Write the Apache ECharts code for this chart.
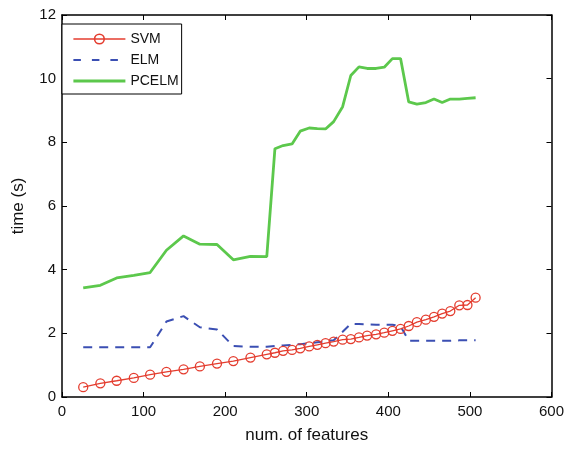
<!DOCTYPE html>
<html>
<head>
<meta charset="utf-8">
<script src="https://cdn.jsdelivr.net/npm/echarts@6/dist/echarts.min.js"></script>
<style>
  html, body { margin: 0; padding: 0; background: #fff; }
  #chart { width: 567px; height: 449px; }
</style>
</head>
<body>
<div id="chart"></div>
<script>
// Number of features used in each run
const features = [26, 47, 67, 88, 108, 128, 149, 169, 190, 210, 231, 251, 261, 271, 282, 292, 303, 313, 323, 333, 344, 354, 364, 374, 385, 395, 405, 415, 425, 435, 446, 456, 466, 476, 487, 497, 507];

// Training time in seconds for each method
const svmTime = [0.31, 0.43, 0.51, 0.60, 0.70, 0.79, 0.87, 0.96, 1.05, 1.13, 1.24, 1.34, 1.39, 1.45, 1.48, 1.53, 1.59, 1.64, 1.69, 1.74, 1.80, 1.82, 1.87, 1.93, 1.97, 2.02, 2.08, 2.14, 2.23, 2.35, 2.43, 2.52, 2.62, 2.70, 2.88, 2.89, 3.12];
const elmTime = [1.56, 1.56, 1.56, 1.56, 1.56, 2.37, 2.54, 2.19, 2.12, 1.60, 1.58, 1.58, 1.60, 1.62, 1.64, 1.66, 1.69, 1.72, 1.75, 1.78, 2.05, 2.30, 2.29, 2.28, 2.27, 2.27, 2.27, 2.22, 1.77, 1.77, 1.77, 1.77, 1.77, 1.77, 1.78, 1.78, 1.78];
const pcelmTime = [3.43, 3.51, 3.74, 3.82, 3.91, 4.61, 5.06, 4.80, 4.79, 4.31, 4.42, 4.41, 7.80, 7.90, 7.95, 8.35, 8.45, 8.43, 8.42, 8.65, 9.12, 10.10, 10.37, 10.32, 10.32, 10.36, 10.63, 10.63, 9.27, 9.20, 9.25, 9.36, 9.25, 9.36, 9.36, 9.38, 9.40];

// Axis ranges and tick spacing
const xRange = [0, 600];
const xStep = 100;
const yRange = [0, 12];
const yStep = 2;

const colors = { SVM: '#e43d2f', ELM: '#3b4fb3', PCELM: '#5cc84c' };
const FONT = '"Liberation Sans", Arial, Helvetica, sans-serif';

const pairs = (ys) => features.map((x, i) => [x, ys[i]]);

const frameAxis = (extra) => Object.assign({
  type: 'value',
  axisLine: { show: true, onZero: false, lineStyle: { color: '#000', width: 1.5 } },
  axisTick: { show: true, inside: true, length: 5, lineStyle: { color: '#000', width: 1 } },
  splitLine: { show: false },
  axisLabel: { show: false }
}, extra);

const labelStyle = { show: true, color: '#111', fontSize: 15, fontFamily: FONT };

const chart = echarts.init(document.getElementById('chart'), null, { renderer: 'canvas' });
chart.setOption({
  animation: false,
  backgroundColor: '#fff',
  grid: { left: 62, right: 15, top: 15, bottom: 48, containLabel: false },
  legend: {
    // plain-line entries hide the default marker dot
    data: [
      { name: 'SVM', lineStyle: { width: 1.6 }, itemStyle: { borderWidth: 1.6 } },
      { name: 'ELM', itemStyle: { opacity: 0 }, lineStyle: { width: 2, type: [7.5, 11] } },
      { name: 'PCELM', itemStyle: { opacity: 0 }, lineStyle: { width: 2.8 } }
    ],
    orient: 'vertical',
    left: 62,
    top: 24,
    padding: [8, 3, 6, 10],
    itemWidth: 52,
    itemHeight: 12,
    itemGap: 7,
    backgroundColor: '#fff',
    borderColor: '#000',
    borderWidth: 1,
    borderRadius: 0,
    textStyle: { color: '#111', fontSize: 14, fontFamily: FONT }
  },
  xAxis: [
    frameAxis({
      position: 'bottom',
      min: xRange[0], max: xRange[1], interval: xStep,
      axisLabel: Object.assign({ margin: 7 }, labelStyle),
      name: 'num. of features',
      nameLocation: 'middle',
      nameGap: 30,
      nameTextStyle: { color: '#111', fontSize: 17, fontFamily: FONT }
    }),
    frameAxis({ position: 'top', min: xRange[0], max: xRange[1], interval: xStep })
  ],
  yAxis: [
    frameAxis({
      position: 'left',
      min: yRange[0], max: yRange[1], interval: yStep,
      axisLabel: Object.assign({ margin: 6 }, labelStyle),
      name: 'time (s)',
      nameLocation: 'middle',
      nameGap: 35,
      nameTextStyle: { color: '#111', fontSize: 17, fontFamily: FONT }
    }),
    frameAxis({ position: 'right', min: yRange[0], max: yRange[1], interval: yStep })
  ],
  series: [
    {
      name: 'SVM',
      type: 'line',
      data: pairs(svmTime),
      symbol: 'circle',
      symbolSize: 9,
      showAllSymbol: true,
      lineStyle: { color: colors.SVM, width: 1.3 },
      // hollow markers: the line shows through each circle
      itemStyle: { color: 'rgba(255,255,255,0)', borderColor: colors.SVM, borderWidth: 1.3 },
      z: 4
    },
    {
      name: 'ELM',
      type: 'line',
      data: pairs(elmTime),
      symbol: 'none',
      lineStyle: { color: colors.ELM, width: 2, type: [9, 7] },
      itemStyle: { color: colors.ELM },
      z: 3
    },
    {
      name: 'PCELM',
      type: 'line',
      data: pairs(pcelmTime),
      symbol: 'none',
      lineStyle: { color: colors.PCELM, width: 2.8 },
      itemStyle: { color: colors.PCELM },
      z: 2
    }
  ]
});
</script>
</body>
</html>
